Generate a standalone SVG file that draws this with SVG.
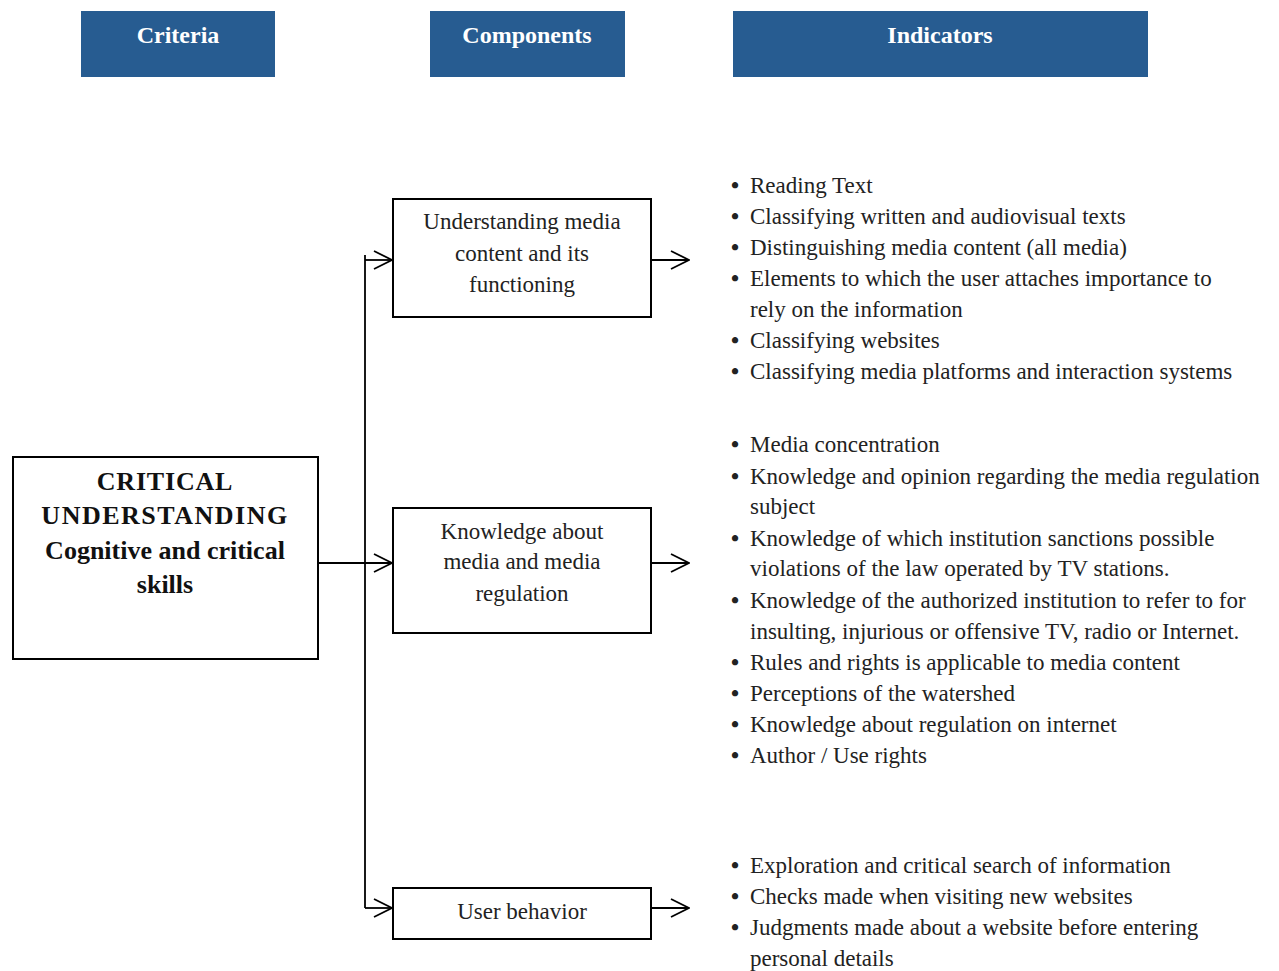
<svg xmlns="http://www.w3.org/2000/svg" width="1279" height="971" viewBox="0 0 1279 971">
<defs>
<marker id="arr" viewBox="0 0 20 20" refX="19" refY="10" markerWidth="20" markerHeight="20" markerUnits="userSpaceOnUse" orient="auto">
<path d="M1,1 L19,10 L1,19" fill="none" stroke="#000" stroke-width="1.8"/>
</marker>
<style>
.hdr{fill:#275C91}
.ht{fill:#fff;font-family:"Liberation Serif",serif;font-size:24px;font-weight:bold;text-anchor:middle}
.box{fill:#fff;stroke:#000;stroke-width:2}
.bt{font-family:"Liberation Serif",serif;font-size:23px;fill:#222;text-anchor:middle}
.mt{font-family:"Liberation Serif",serif;font-size:26px;font-weight:bold;fill:#111;text-anchor:middle}
.li{font-family:"Liberation Serif",serif;font-size:23px;fill:#222}
.bu{font-weight:bold}
.con{fill:none;stroke:#000;stroke-width:1.8}
</style>
</defs>
<g id="headers">
<g id="h-criteria"><rect class="hdr" x="81" y="11" width="194" height="66"/><text class="ht" x="178" y="43">Criteria</text></g>
<g id="h-components"><rect class="hdr" x="430" y="11" width="195" height="66"/><text class="ht" x="527" y="43">Components</text></g>
<g id="h-indicators"><rect class="hdr" x="733" y="11" width="415" height="66"/><text class="ht" x="940" y="43">Indicators</text></g>
</g>
<g id="connectors">
<path class="con" d="M365,255 L365,908" stroke-width="2.2"/>
<path class="con" d="M365,260 L392,260" marker-end="url(#arr)"/>
<path class="con" d="M318,563 L392,563" marker-end="url(#arr)"/>
<path class="con" d="M365,908 L392,908" marker-end="url(#arr)"/>
<path class="con" d="M651,260 L689,260" marker-end="url(#arr)"/>
<path class="con" d="M651,563 L689,563" marker-end="url(#arr)"/>
<path class="con" d="M651,908 L689,908" marker-end="url(#arr)"/>
</g>
<g id="main">
<rect class="box" x="13" y="457" width="305" height="202"/>
<text class="mt" x="165" y="490" letter-spacing="0.8">CRITICAL</text>
<text class="mt" x="165" y="524" letter-spacing="1.5">UNDERSTANDING</text>
<text class="mt" x="165" y="559">Cognitive and critical</text>
<text class="mt" x="165" y="593">skills</text>
</g>
<g id="comp1">
<rect class="box" x="393" y="199" width="258" height="118"/>
<text class="bt" x="522" y="229">Understanding media</text>
<text class="bt" x="522" y="261">content and its</text>
<text class="bt" x="522" y="292">functioning</text>
</g>
<g id="comp2">
<rect class="box" x="393" y="508" width="258" height="125"/>
<text class="bt" x="522" y="539">Knowledge about</text>
<text class="bt" x="522" y="569">media and media</text>
<text class="bt" x="522" y="601">regulation</text>
</g>
<g id="comp3">
<rect class="box" x="393" y="888" width="258" height="51"/>
<text class="bt" x="522" y="919">User behavior</text>
</g>
<g id="ind1" class="li">
<text class="bu" x="731" y="193">•</text><text x="750" y="193">Reading Text</text>
<text class="bu" x="731" y="224">•</text><text x="750" y="224">Classifying written and audiovisual texts</text>
<text class="bu" x="731" y="255">•</text><text x="750" y="255">Distinguishing media content (all media)</text>
<text class="bu" x="731" y="286">•</text><text x="750" y="286">Elements to which the user attaches importance to</text>
<text x="750" y="317">rely on the information</text>
<text class="bu" x="731" y="348">•</text><text x="750" y="348">Classifying websites</text>
<text class="bu" x="731" y="379">•</text><text x="750" y="379">Classifying media platforms and interaction systems</text>
</g>
<g id="ind2" class="li">
<text class="bu" x="731" y="452">•</text><text x="750" y="452">Media concentration</text>
<text class="bu" x="731" y="484">•</text><text x="750" y="484">Knowledge and opinion regarding the media regulation</text>
<text x="750" y="514">subject</text>
<text class="bu" x="731" y="546">•</text><text x="750" y="546">Knowledge of which institution sanctions possible</text>
<text x="750" y="576">violations of the law operated by TV stations.</text>
<text class="bu" x="731" y="608">•</text><text x="750" y="608">Knowledge of the authorized institution to refer to for</text>
<text x="750" y="639">insulting, injurious or offensive TV, radio or Internet.</text>
<text class="bu" x="731" y="670">•</text><text x="750" y="670">Rules and rights is applicable to media content</text>
<text class="bu" x="731" y="701">•</text><text x="750" y="701">Perceptions of the watershed</text>
<text class="bu" x="731" y="732">•</text><text x="750" y="732">Knowledge about regulation on internet</text>
<text class="bu" x="731" y="763">•</text><text x="750" y="763">Author / Use rights</text>
</g>
<g id="ind3" class="li">
<text class="bu" x="731" y="873">•</text><text x="750" y="873">Exploration and critical search of information</text>
<text class="bu" x="731" y="904">•</text><text x="750" y="904">Checks made when visiting new websites</text>
<text class="bu" x="731" y="935">•</text><text x="750" y="935">Judgments made about a website before entering</text>
<text x="750" y="966">personal details</text>
</g>
</svg>
